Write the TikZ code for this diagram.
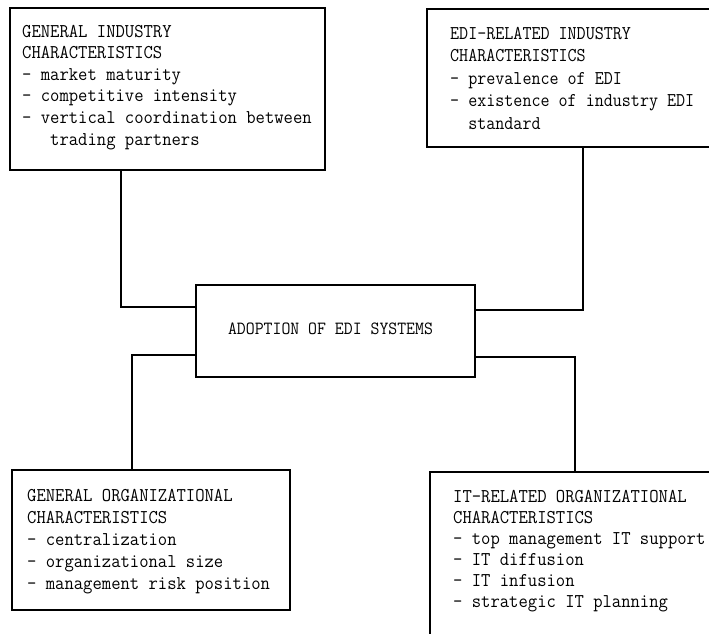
\documentclass[tikz,border=0pt]{standalone}
\usepackage{fontspec}
\usepackage{graphicx}
\newcommand{\twlines}[4][0.93]{{\ttfamily\fontsize{#2}{#3}\selectfont\scalebox{#1}[1]{\begin{tabular}{@{}l@{}}#4\end{tabular}}}}
\begin{document}
\begin{tikzpicture}[x=1pt,y=-1pt,
  box/.style={draw, line width=1.1pt, rectangle, inner sep=0pt, outer sep=0pt, anchor=north west},
  txt/.style={anchor=north west, inner sep=0pt},
  wire/.style={line width=1.1pt}]
\useasboundingbox (0,0) rectangle (709,634);
\clip (0,0) rectangle (709,634);
% boxes
\node[box, minimum width=315, minimum height=162] (b1) at (10,8) {};
\node[box, minimum width=300, minimum height=138] (b2) at (427,9) {};
\node[box, minimum width=279, minimum height=92] (c) at (196,285) {};
\node[box, minimum width=278, minimum height=140] (b3) at (12,470) {};
\node[box, minimum width=300, minimum height=200] (b4) at (430,472) {};
% texts
\node[txt] (t1) at (22,21.8)
  {\twlines{19.5}{21.6}{GENERAL INDUSTRY\\CHARACTERISTICS\\- market maturity\\- competitive intensity\\- vertical coordination between\\\phantom{xxx}trading partners}};
\node[txt] (t2) at (450,23.2)
  {\twlines[0.9]{19.5}{22.5}{EDI-RELATED INDUSTRY\\CHARACTERISTICS\\- prevalence of EDI\\- existence of industry EDI\\\phantom{xx}standard}};
\node[txt] (t3) at (27,485.5)
  {\twlines{19.5}{22}{GENERAL ORGANIZATIONAL\\CHARACTERISTICS\\- centralization\\- organizational size\\- management risk position}};
\node[txt] (t4) at (453,487.2)
  {\twlines{19.5}{21}{IT-RELATED ORGANIZATIONAL\\CHARACTERISTICS\\- top management IT support\\- IT diffusion\\- IT infusion\\- strategic IT planning}};
\node[inner sep=0pt] (tc) at ([xshift=-5,yshift=1]c.center) {\twlines{18.6}{20}{ADOPTION OF EDI SYSTEMS}};
% connectors
\draw[wire] ([xshift=111]b1.south west) |- ([yshift=-22]c.north west);
\draw[wire] ([xshift=156]b2.south west) |- ([yshift=-25]c.north east);
\draw[wire] ([yshift=22]c.south west) -| ([xshift=120]b3.north west);
\draw[wire] ([yshift=20]c.south east) -| ([xshift=145]b4.north west);
\end{tikzpicture}
\end{document}
